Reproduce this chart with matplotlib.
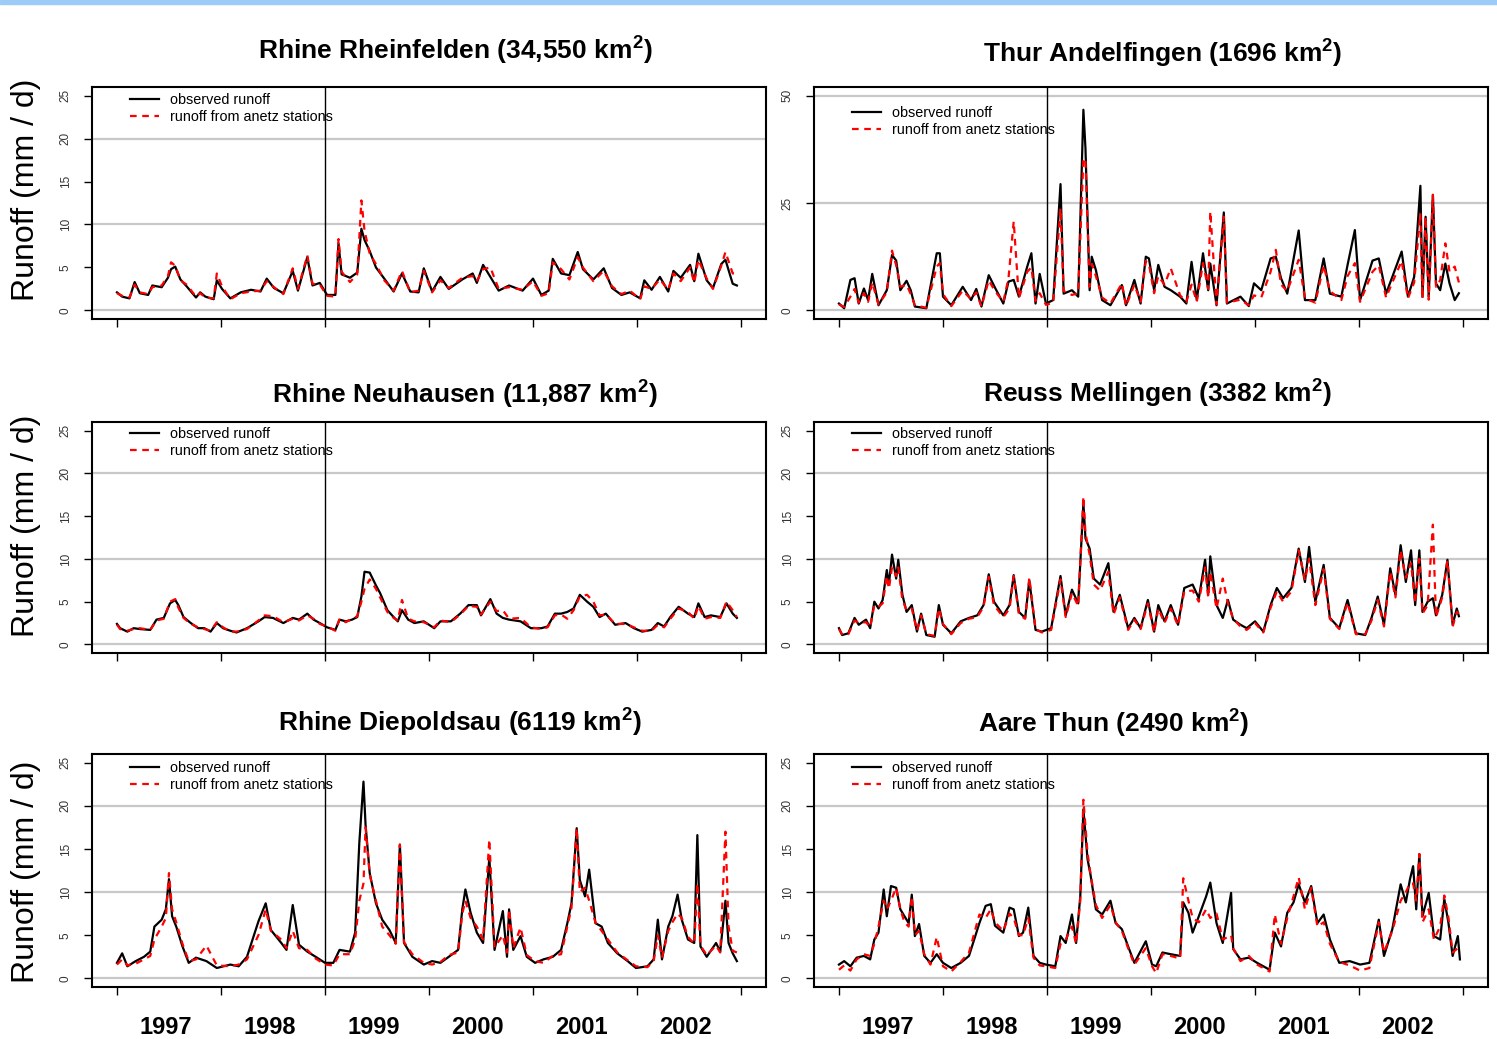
import matplotlib.pyplot as plt
from matplotlib.patches import Rectangle
from matplotlib import transforms

plt.rcParams['font.family'] = ['Liberation Sans', 'DejaVu Sans']
plt.rcParams['mathtext.fontset'] = 'custom'
plt.rcParams['mathtext.rm'] = 'Liberation Sans'
plt.rcParams['mathtext.bf'] = 'Liberation Sans:bold'

# ---- data (decimal years, runoff in mm/d) ----
year_ticks = [1997, 1998, 1999, 2000, 2001, 2002, 2003]
year_labels = ['1997', '1998', '1999', '2000', '2001', '2002']

# Rhine Rheinfelden
rhf_t = [1997.00, 1997.05, 1997.12, 1997.17, 1997.22, 1997.30, 1997.34, 1997.43, 1997.49, 1997.52,
         1997.56, 1997.61, 1997.67, 1997.76, 1997.80, 1997.85, 1997.93, 1997.96, 1998.01, 1998.09,
         1998.19, 1998.29, 1998.38, 1998.44, 1998.51, 1998.60, 1998.69, 1998.74, 1998.83, 1998.88,
         1998.95, 1999.02, 1999.10, 1999.13, 1999.16, 1999.24, 1999.31, 1999.35, 1999.38, 1999.43,
         1999.49, 1999.57, 1999.66, 1999.74, 1999.82, 1999.90, 1999.95, 2000.03, 2000.11, 2000.19,
         2000.32, 2000.42, 2000.46, 2000.52, 2000.59, 2000.67, 2000.77, 2000.90, 2001.00, 2001.08,
         2001.15, 2001.19, 2001.27, 2001.35, 2001.43, 2001.48, 2001.58, 2001.68, 2001.76, 2001.85,
         2001.93, 2002.03, 2002.07, 2002.14, 2002.22, 2002.30, 2002.35, 2002.42, 2002.51, 2002.55,
         2002.59, 2002.67, 2002.73, 2002.81, 2002.85, 2002.92, 2002.96]
rhf_obs = [2.1, 1.6, 1.4, 3.3, 2.0, 1.8, 2.9, 2.7, 3.8, 4.8,
           5.1, 3.6, 2.8, 1.5, 2.1, 1.6, 1.3, 3.5, 2.5, 1.4,
           2.1, 2.4, 2.2, 3.7, 2.6, 2.0, 4.6, 2.3, 6.2, 2.9,
           3.2, 1.8, 1.8, 7.8, 4.2, 3.8, 4.4, 9.5, 8.2, 6.9,
           5.0, 3.7, 2.2, 4.3, 2.2, 2.1, 4.9, 2.2, 3.9, 2.5,
           3.6, 4.3, 3.2, 5.3, 3.9, 2.3, 2.9, 2.3, 3.7, 1.8,
           2.3, 6.0, 4.3, 4.1, 6.8, 4.8, 3.6, 4.9, 2.6, 1.8,
           2.1, 1.4, 3.5, 2.4, 3.9, 2.2, 4.6, 3.8, 5.3, 3.4,
           6.6, 3.5, 2.6, 5.4, 5.9, 3.1, 2.9]
rhf_sim = [2.0, 1.7, 1.5, 3.0, 2.1, 1.9, 2.7, 2.9, 4.0, 5.6,
           5.2, 3.5, 3.0, 1.6, 2.0, 1.5, 1.4, 4.3, 2.8, 1.3,
           2.0, 2.2, 2.3, 3.4, 2.7, 1.9, 4.9, 2.5, 6.4, 3.1,
           3.0, 1.7, 1.6, 8.3, 4.5, 3.3, 4.2, 12.8, 9.3, 6.6,
           5.4, 3.5, 2.3, 4.6, 2.1, 2.3, 4.6, 2.1, 3.5, 2.6,
           3.8, 4.0, 3.4, 4.8, 5.0, 2.5, 2.7, 2.4, 3.4, 1.7,
           2.0, 5.6, 4.8, 3.6, 6.2, 5.0, 3.4, 4.6, 2.8, 1.9,
           2.3, 1.3, 2.8, 2.5, 3.6, 2.4, 4.3, 3.4, 5.0, 3.2,
           5.9, 3.7, 2.5, 5.2, 6.8, 4.3, 4.2]

# Thur Andelfingen
thu_t = [1997.00, 1997.05, 1997.11, 1997.15, 1997.19, 1997.24, 1997.28, 1997.32, 1997.38, 1997.46,
         1997.51, 1997.55, 1997.59, 1997.65, 1997.69, 1997.73, 1997.84, 1997.94, 1997.97, 1998.00,
         1998.08, 1998.19, 1998.27, 1998.32, 1998.37, 1998.44, 1998.50, 1998.58, 1998.63, 1998.68,
         1998.73, 1998.81, 1998.85, 1998.89, 1998.93, 1998.99, 1999.06, 1999.13, 1999.16, 1999.24,
         1999.30, 1999.35, 1999.37, 1999.41, 1999.43, 1999.47, 1999.53, 1999.61, 1999.72, 1999.76,
         1999.84, 1999.90, 1999.95, 1999.98, 2000.03, 2000.07, 2000.13, 2000.19, 2000.28, 2000.34,
         2000.39, 2000.44, 2000.50, 2000.55, 2000.57, 2000.63, 2000.70, 2000.73, 2000.86, 2000.94,
         2000.99, 2001.06, 2001.15, 2001.20, 2001.25, 2001.31, 2001.42, 2001.48, 2001.58, 2001.66,
         2001.72, 2001.83, 2001.89, 2001.96, 2002.01, 2002.13, 2002.19, 2002.26, 2002.32, 2002.41,
         2002.47, 2002.53, 2002.59, 2002.61, 2002.64, 2002.67, 2002.71, 2002.74, 2002.78, 2002.83,
         2002.87, 2002.92, 2002.96]
thu_obs = [1.6, 0.5, 7.1, 7.5, 1.6, 5.1, 2.4, 8.5, 1.2, 4.7,
           12.9, 11.6, 4.7, 6.9, 4.7, 0.9, 0.5, 13.3, 13.3, 3.2,
           1.2, 5.5, 2.4, 5.0, 0.9, 8.2, 5.3, 1.6, 6.7, 7.1,
           3.2, 10.2, 13.3, 1.6, 8.5, 1.6, 2.4, 29.4, 3.9, 4.7,
           3.2, 46.7, 37.7, 4.7, 12.5, 9.4, 2.4, 1.2, 5.9, 1.2,
           7.1, 1.6, 12.5, 12.1, 4.7, 10.6, 5.5, 4.7, 3.2, 1.6,
           11.3, 2.4, 13.3, 4.7, 10.9, 1.2, 22.8, 1.6, 3.2, 1.0,
           6.3, 4.7, 12.1, 12.5, 7.5, 3.9, 18.6, 2.4, 2.4, 12.1,
           3.9, 3.2, 10.6, 18.7, 2.4, 11.6, 12.1, 3.9, 7.8, 13.7,
           3.2, 7.8, 29.0, 3.2, 21.8, 3.2, 26.9, 6.3, 4.7, 10.9,
           6.3, 2.4, 4.0]
thu_sim = [1.4, 0.8, 3.2, 5.0, 1.8, 4.0, 2.0, 6.5, 1.4, 4.2,
           13.9, 10.5, 5.5, 6.0, 3.8, 1.2, 0.6, 10.2, 11.0, 3.8,
           1.0, 4.6, 2.6, 4.2, 0.9, 7.0, 4.5, 2.0, 7.5, 20.7,
           2.8, 9.0, 10.0, 2.2, 4.0, 1.3, 1.8, 23.8, 4.5, 3.6,
           4.0, 35.4, 35.0, 5.5, 10.8, 8.0, 3.0, 1.6, 6.3, 1.0,
           6.0, 2.0, 11.5, 10.8, 4.0, 8.0, 6.0, 9.8, 3.5, 2.0,
           6.0, 2.0, 11.0, 5.0, 23.0, 1.4, 21.8, 1.8, 2.5, 1.2,
           3.5, 3.0, 9.0, 14.1, 6.0, 4.5, 11.8, 2.8, 1.8, 10.5,
           4.5, 2.4, 8.0, 11.0, 2.0, 9.0, 10.5, 3.0, 6.5, 11.5,
           2.8, 6.5, 22.6, 2.8, 21.8, 2.5, 26.9, 5.5, 7.0, 15.6,
           9.0, 10.2, 6.5]

# Rhine Neuhausen
neu_t = [1997.00, 1997.03, 1997.10, 1997.16, 1997.22, 1997.32, 1997.38, 1997.45, 1997.51, 1997.56,
         1997.59, 1997.64, 1997.71, 1997.78, 1997.84, 1997.90, 1997.96, 1998.02, 1998.09, 1998.15,
         1998.25, 1998.36, 1998.42, 1998.50, 1998.60, 1998.69, 1998.75, 1998.83, 1998.89, 1998.95,
         1999.02, 1999.10, 1999.14, 1999.20, 1999.26, 1999.31, 1999.35, 1999.38, 1999.43, 1999.49,
         1999.53, 1999.60, 1999.66, 1999.70, 1999.74, 1999.80, 1999.86, 1999.95, 2000.05, 2000.11,
         2000.21, 2000.30, 2000.38, 2000.46, 2000.50, 2000.59, 2000.65, 2000.71, 2000.77, 2000.88,
         2000.98, 2001.08, 2001.14, 2001.21, 2001.27, 2001.33, 2001.39, 2001.45, 2001.52, 2001.58,
         2001.64, 2001.70, 2001.79, 2001.89, 2001.97, 2002.05, 2002.14, 2002.20, 2002.26, 2002.32,
         2002.40, 2002.49, 2002.55, 2002.59, 2002.65, 2002.71, 2002.80, 2002.86, 2002.92, 2002.96]
neu_obs = [2.4, 1.9, 1.5, 1.9, 1.8, 1.7, 2.9, 3.1, 4.8, 5.2,
           4.6, 3.2, 2.5, 1.9, 1.9, 1.5, 2.5, 1.9, 1.6, 1.4,
           1.9, 2.7, 3.2, 3.1, 2.5, 3.1, 2.9, 3.6, 2.9, 2.5,
           2.0, 1.7, 2.9, 2.7, 2.9, 3.2, 5.6, 8.5, 8.4, 6.9,
           6.0, 4.0, 3.2, 2.7, 4.0, 2.9, 2.5, 2.7, 1.9, 2.7,
           2.7, 3.6, 4.6, 4.6, 3.4, 5.3, 3.6, 3.1, 2.9, 2.7,
           1.9, 1.9, 2.1, 3.6, 3.6, 3.8, 4.2, 5.8, 5.0, 4.4,
           3.2, 3.6, 2.3, 2.5, 1.9, 1.5, 1.7, 2.5, 2.1, 3.2,
           4.4, 3.6, 3.2, 4.8, 3.2, 3.4, 3.2, 4.8, 3.6, 3.1]
neu_sim = [2.3, 1.8, 1.6, 1.8, 1.9, 1.7, 2.8, 3.0, 5.0, 5.3,
           4.3, 3.1, 2.4, 2.0, 1.8, 1.6, 2.6, 2.0, 1.5, 1.5,
           1.8, 2.8, 3.4, 3.3, 2.6, 3.0, 2.8, 3.4, 3.0, 2.4,
           2.1, 1.6, 3.0, 2.6, 3.0, 3.3, 5.0, 6.5, 7.6, 6.5,
           5.5, 3.8, 3.1, 2.8, 5.2, 3.0, 2.7, 2.6, 2.0, 2.8,
           2.6, 3.5, 4.5, 4.4, 3.5, 5.0, 3.9, 4.0, 3.0, 3.1,
           2.0, 1.8, 2.0, 3.4, 3.5, 3.0, 4.0, 5.6, 5.8, 5.0,
           3.4, 3.5, 2.4, 2.4, 2.0, 1.6, 1.6, 2.3, 2.0, 3.0,
           4.2, 3.8, 3.0, 4.5, 3.0, 3.2, 3.1, 5.0, 4.0, 3.2]

# Reuss Mellingen
reu_t = [1997.00, 1997.03, 1997.09, 1997.15, 1997.19, 1997.26, 1997.30, 1997.34, 1997.38, 1997.42,
         1997.46, 1997.48, 1997.51, 1997.55, 1997.57, 1997.61, 1997.65, 1997.70, 1997.75, 1997.79,
         1997.84, 1997.92, 1997.96, 1998.00, 1998.08, 1998.17, 1998.25, 1998.33, 1998.39, 1998.44,
         1998.49, 1998.58, 1998.64, 1998.68, 1998.73, 1998.79, 1998.83, 1998.89, 1998.95, 1999.04,
         1999.13, 1999.18, 1999.24, 1999.30, 1999.35, 1999.37, 1999.41, 1999.45, 1999.51, 1999.59,
         1999.64, 1999.70, 1999.78, 1999.84, 1999.90, 1999.97, 2000.03, 2000.07, 2000.13, 2000.19,
         2000.26, 2000.32, 2000.40, 2000.46, 2000.52, 2000.55, 2000.57, 2000.63, 2000.69, 2000.74,
         2000.79, 2000.86, 2000.92, 2001.00, 2001.08, 2001.15, 2001.21, 2001.27, 2001.35, 2001.42,
         2001.48, 2001.52, 2001.58, 2001.66, 2001.72, 2001.81, 2001.89, 2001.97, 2002.06, 2002.12,
         2002.18, 2002.24, 2002.30, 2002.35, 2002.40, 2002.45, 2002.50, 2002.54, 2002.58, 2002.61,
         2002.66, 2002.71, 2002.74, 2002.80, 2002.85, 2002.90, 2002.94, 2002.96]
reu_obs = [1.9, 1.1, 1.3, 3.1, 2.3, 2.9, 1.9, 5.0, 4.2, 5.2,
           8.7, 7.0, 10.5, 7.7, 9.9, 5.8, 3.8, 4.6, 1.5, 3.6,
           1.1, 0.9, 4.6, 2.3, 1.3, 2.7, 3.1, 3.4, 4.6, 8.2,
           5.0, 3.4, 4.6, 8.1, 3.8, 3.1, 7.5, 1.7, 1.5, 1.9,
           8.0, 3.4, 6.4, 4.8, 16.5, 12.4, 11.2, 7.7, 7.0, 9.5,
           3.8, 5.8, 1.9, 3.1, 1.9, 5.2, 1.5, 4.6, 2.7, 4.6,
           2.3, 6.6, 7.0, 5.4, 9.9, 5.8, 10.3, 4.6, 3.1, 5.2,
           2.9, 2.3, 1.9, 2.7, 1.5, 4.6, 6.6, 5.4, 6.6, 11.2,
           7.3, 11.4, 5.0, 9.3, 3.1, 1.9, 5.2, 1.3, 1.1, 3.1,
           5.6, 2.3, 8.9, 5.8, 11.6, 7.3, 11.0, 4.6, 11.0, 3.8,
           5.0, 5.4, 3.4, 5.8, 9.9, 2.3, 4.2, 3.3]
reu_sim = [1.8, 1.2, 1.2, 2.8, 2.5, 2.6, 2.0, 4.6, 4.4, 4.8,
           8.0, 6.5, 9.0, 8.0, 9.0, 5.2, 4.0, 4.2, 1.6, 3.4,
           1.2, 1.0, 4.2, 2.4, 1.2, 2.5, 3.0, 3.2, 4.4, 7.9,
           4.6, 3.2, 4.2, 8.0, 3.5, 3.0, 7.8, 1.8, 1.4, 1.7,
           7.6, 3.2, 6.0, 4.5, 17.3, 13.0, 10.5, 7.0, 6.3, 8.5,
           3.5, 5.5, 1.7, 2.9, 1.8, 4.8, 1.4, 4.2, 2.5, 4.2,
           2.2, 6.2, 6.3, 5.0, 9.0, 5.5, 8.5, 4.2, 7.7, 4.8,
           3.0, 2.1, 1.7, 2.5, 1.4, 4.3, 6.2, 5.0, 6.2, 11.0,
           7.5, 10.0, 4.6, 8.8, 3.0, 1.8, 4.9, 1.2, 1.2, 2.8,
           5.2, 2.1, 8.5, 5.5, 11.0, 7.8, 9.5, 4.8, 10.0, 3.6,
           4.6, 14.0, 3.2, 5.5, 9.8, 2.1, 3.8, 3.6]

# Rhine Diepoldsau
die_t = [1997.00, 1997.05, 1997.10, 1997.18, 1997.26, 1997.32, 1997.36, 1997.43, 1997.47, 1997.50,
         1997.53, 1997.57, 1997.63, 1997.69, 1997.76, 1997.86, 1997.96, 1998.09, 1998.17, 1998.25,
         1998.36, 1998.43, 1998.48, 1998.58, 1998.63, 1998.69, 1998.75, 1998.83, 1998.91, 1999.00,
         1999.08, 1999.14, 1999.24, 1999.29, 1999.33, 1999.37, 1999.39, 1999.43, 1999.49, 1999.55,
         1999.62, 1999.68, 1999.72, 1999.76, 1999.84, 1999.95, 2000.03, 2000.11, 2000.19, 2000.28,
         2000.32, 2000.35, 2000.40, 2000.46, 2000.52, 2000.58, 2000.63, 2000.71, 2000.75, 2000.77,
         2000.81, 2000.88, 2000.94, 2001.02, 2001.10, 2001.19, 2001.27, 2001.33, 2001.37, 2001.42,
         2001.45, 2001.50, 2001.54, 2001.60, 2001.66, 2001.72, 2001.81, 2001.91, 2001.99, 2002.10,
         2002.16, 2002.20, 2002.24, 2002.30, 2002.34, 2002.39, 2002.43, 2002.49, 2002.55, 2002.58,
         2002.61, 2002.67, 2002.76, 2002.80, 2002.85, 2002.88, 2002.92, 2002.96]
die_obs = [1.8, 2.9, 1.4, 2.0, 2.5, 3.1, 6.0, 6.8, 8.0, 11.5,
           7.2, 6.0, 3.7, 1.8, 2.4, 2.0, 1.2, 1.6, 1.4, 2.5,
           6.6, 8.7, 5.6, 4.1, 3.3, 8.5, 3.9, 3.1, 2.5, 1.8,
           1.8, 3.3, 3.1, 5.3, 15.7, 22.8, 17.8, 12.2, 8.7, 6.8,
           5.6, 4.1, 15.5, 4.1, 2.5, 1.6, 2.0, 1.8, 2.5, 3.3,
           8.0, 10.3, 7.6, 5.3, 4.1, 14.0, 3.3, 7.8, 2.5, 8.0,
           3.3, 4.9, 2.5, 1.8, 2.2, 2.5, 3.3, 6.4, 8.7, 17.4,
           11.4, 9.5, 12.6, 6.4, 6.0, 4.1, 2.9, 2.0, 1.2, 1.4,
           2.2, 6.8, 2.2, 6.0, 7.2, 9.7, 6.8, 4.5, 4.1, 16.6,
           3.7, 2.5, 4.1, 3.1, 9.0, 4.1, 2.9, 2.0]
die_sim = [1.6, 2.2, 1.5, 1.7, 2.2, 2.6, 4.5, 6.0, 7.0, 12.2,
           8.0, 6.5, 4.0, 2.0, 2.2, 3.8, 1.5, 1.4, 1.6, 2.2,
           5.0, 8.0, 5.5, 4.5, 3.5, 5.5, 3.5, 3.3, 2.3, 1.6,
           1.5, 2.8, 2.8, 4.5, 9.0, 11.0, 17.5, 12.0, 9.0, 6.0,
           5.0, 4.0, 15.5, 4.2, 2.8, 1.8, 1.6, 1.9, 2.7, 3.0,
           7.5, 9.0, 7.0, 6.0, 4.5, 16.1, 3.6, 5.0, 3.0, 8.0,
           3.5, 5.9, 2.7, 2.0, 1.8, 2.6, 2.8, 6.0, 8.2, 17.4,
           10.0, 10.5, 9.0, 6.5, 5.5, 4.5, 3.0, 2.1, 1.4, 1.3,
           2.0, 5.0, 2.4, 5.5, 6.5, 7.5, 7.0, 4.8, 4.0, 11.0,
           3.8, 2.7, 3.8, 3.0, 17.0, 6.0, 3.2, 3.0]

# Aare Thun
aar_t = [1997.00, 1997.05, 1997.11, 1997.17, 1997.24, 1997.30, 1997.34, 1997.38, 1997.43, 1997.46,
         1997.50, 1997.55, 1997.59, 1997.63, 1997.67, 1997.70, 1997.73, 1997.77, 1997.82, 1997.88,
         1997.94, 1998.00, 1998.08, 1998.17, 1998.25, 1998.35, 1998.41, 1998.46, 1998.50, 1998.58,
         1998.64, 1998.68, 1998.73, 1998.77, 1998.82, 1998.87, 1998.93, 1998.99, 1999.08, 1999.13,
         1999.18, 1999.24, 1999.28, 1999.32, 1999.35, 1999.39, 1999.42, 1999.47, 1999.53, 1999.61,
         1999.66, 1999.72, 1999.78, 1999.84, 1999.95, 2000.01, 2000.05, 2000.11, 2000.19, 2000.28,
         2000.31, 2000.36, 2000.40, 2000.46, 2000.53, 2000.57, 2000.63, 2000.69, 2000.77, 2000.79,
         2000.86, 2000.94, 2001.02, 2001.14, 2001.19, 2001.25, 2001.31, 2001.37, 2001.42, 2001.48,
         2001.54, 2001.60, 2001.66, 2001.72, 2001.81, 2001.91, 2002.01, 2002.10, 2002.19, 2002.24,
         2002.32, 2002.40, 2002.45, 2002.49, 2002.52, 2002.55, 2002.58, 2002.61, 2002.67, 2002.72,
         2002.78, 2002.82, 2002.86, 2002.90, 2002.95, 2002.97]
aar_obs = [1.6, 2.0, 1.4, 2.4, 2.6, 2.2, 4.5, 5.3, 10.3, 7.2,
           10.7, 10.5, 8.0, 7.2, 6.4, 9.7, 4.9, 6.3, 2.6, 1.8,
           2.8, 1.8, 1.2, 1.8, 2.6, 6.4, 8.4, 8.6, 6.1, 5.3,
           8.2, 8.0, 4.9, 5.3, 8.2, 2.6, 1.8, 1.6, 1.4, 4.9,
           4.1, 7.4, 4.1, 9.5, 19.6, 13.8, 11.9, 8.0, 7.4, 9.0,
           6.4, 5.7, 3.7, 1.8, 4.3, 1.6, 1.4, 3.0, 2.8, 2.6,
           8.8, 7.6, 5.3, 7.2, 9.5, 11.1, 6.4, 4.1, 9.9, 3.4,
           2.2, 2.4, 1.8, 1.0, 5.3, 3.7, 7.6, 8.8, 10.9, 8.8,
           10.7, 6.4, 7.4, 4.5, 1.8, 2.0, 1.6, 1.8, 6.8, 2.6,
           5.7, 10.9, 8.8, 11.5, 13.0, 8.0, 14.4, 7.2, 9.9, 4.9,
           4.5, 9.2, 6.4, 2.6, 4.9, 2.2]
aar_sim = [1.0, 1.5, 0.9, 2.2, 2.8, 2.6, 4.0, 6.0, 9.0, 8.0,
           9.0, 10.5, 8.0, 6.5, 6.0, 9.5, 5.0, 5.5, 2.8, 1.6,
           4.8, 1.4, 0.8, 1.9, 3.0, 7.4, 7.0, 8.0, 6.5, 5.5,
           7.5, 7.0, 5.0, 5.0, 7.0, 2.4, 1.5, 1.4, 1.2, 4.0,
           4.5, 6.0, 4.0, 9.0, 20.7, 14.5, 12.0, 8.5, 7.0, 8.5,
           6.5, 5.5, 3.5, 1.6, 3.5, 1.4, 0.6, 2.8, 2.6, 2.3,
           11.6, 9.0, 7.0, 6.5, 8.0, 7.0, 7.5, 4.5, 5.0, 3.5,
           2.0, 2.6, 1.6, 0.8, 7.4, 4.0, 7.0, 9.5, 11.7, 8.0,
           10.5, 6.0, 6.5, 4.0, 1.9, 1.5, 0.9, 1.2, 6.5, 3.0,
           5.5, 9.0, 10.0, 11.0, 11.0, 9.0, 14.4, 6.5, 8.0, 4.5,
           6.0, 9.6, 7.0, 3.0, 3.5, 3.0]

# ---- layout (pixel boxes taken from the original figure) ----
W, H = 1497, 1039
fig = plt.figure(figsize=(W / 100, H / 100), dpi=100)
fig.patches.append(Rectangle((0, 1 - 4 / H), 1, 4 / H, transform=fig.transFigure,
                             color='#9DCBF8', zorder=0))

cols = [(92, 766), (814, 1488)]
rows = [(87, 319), (422, 653), (754, 987)]

panels = [
    # title, series, row, col, y max, title centre (px), legend offset (px)
    (r'Rhine Rheinfelden (34,550 km$^{\mathbf{2}}$)', rhf_t, rhf_obs, rhf_sim, 0, 0, 25, (455, 50), 13),
    (r'Thur Andelfingen (1696 km$^{\mathbf{2}}$)', thu_t, thu_obs, thu_sim, 0, 1, 50, (1163, 53), 26),
    (r'Rhine Neuhausen (11,887 km$^{\mathbf{2}}$)', neu_t, neu_obs, neu_sim, 1, 0, 25, (465, 394), 12),
    (r'Reuss Mellingen (3382 km$^{\mathbf{2}}$)', reu_t, reu_obs, reu_sim, 1, 1, 25, (1158, 393), 12),
    (r'Rhine Diepoldsau (6119 km$^{\mathbf{2}}$)', die_t, die_obs, die_sim, 2, 0, 25, (460, 722), 14),
    (r'Aare Thun (2490 km$^{\mathbf{2}}$)', aar_t, aar_obs, aar_sim, 2, 1, 25, (1114, 723), 14),
]

for title, t, obs, sim, r, c, ymax, tpos, leg_off in panels:
    x0, x1 = cols[c]
    y0, y1 = rows[r]
    ax = fig.add_axes([x0 / W, 1 - y1 / H, (x1 - x0) / W, (y1 - y0) / H])
    ax.set_xlim(1996.76, 2003.24)
    pad = ymax * 0.04
    ax.set_ylim(-pad, ymax + pad)

    step = 10 if ymax == 25 else 25
    for g in range(0, ymax + 1, step):
        ax.axhline(g, color='#C8C8C8', lw=1.6, zorder=1)
    ax.axvline(1999, color='black', lw=1.0, zorder=2)

    ax.plot(t, obs, color='black', lw=1.6, zorder=3, label='observed runoff')
    ax.plot(t, sim, color='red', lw=1.6, ls=(0, (3, 2.5)), zorder=4,
            label='runoff from anetz stations')

    ax.set_xticks(year_ticks)
    ax.set_xticklabels([])
    ax.set_yticks(range(0, ymax + 1, 5 if ymax == 25 else 25))
    ax.tick_params(axis='both', direction='out', length=5.5, width=1, color='black')
    ax.tick_params(axis='y', labelsize=8.5, labelcolor='#333333', pad=9, labelrotation=90)
    for lab in ax.get_yticklabels():
        lab.set_va('center')
    for s in ax.spines.values():
        s.set_linewidth(1.5)

    ax.legend(loc='upper left',
              bbox_to_anchor=(38 / (x1 - x0), 1 - (leg_off - 7) / (y1 - y0)),
              frameon=False, fontsize=10.4, handlelength=2.0, handletextpad=0.75,
              labelspacing=0.2, borderpad=0, borderaxespad=0)

    fig.text(tpos[0] / W, 1 - tpos[1] / H, title, fontsize=19, fontweight='bold',
             ha='center', va='center')

    if r == 2:
        tr = transforms.blended_transform_factory(ax.transData, fig.transFigure)
        for yr, lab in zip(year_ticks, year_labels):
            ax.text(yr + 0.47, 1 - 1028 / H, lab, transform=tr, fontsize=17,
                    fontweight='bold', ha='center', va='center')

for yc in (190, 526, 872):
    fig.text(26 / W, 1 - yc / H, 'Runoff (mm / d)', rotation=90, fontsize=23,
             ha='center', va='center')

fig.savefig('out.png', dpi=100)
